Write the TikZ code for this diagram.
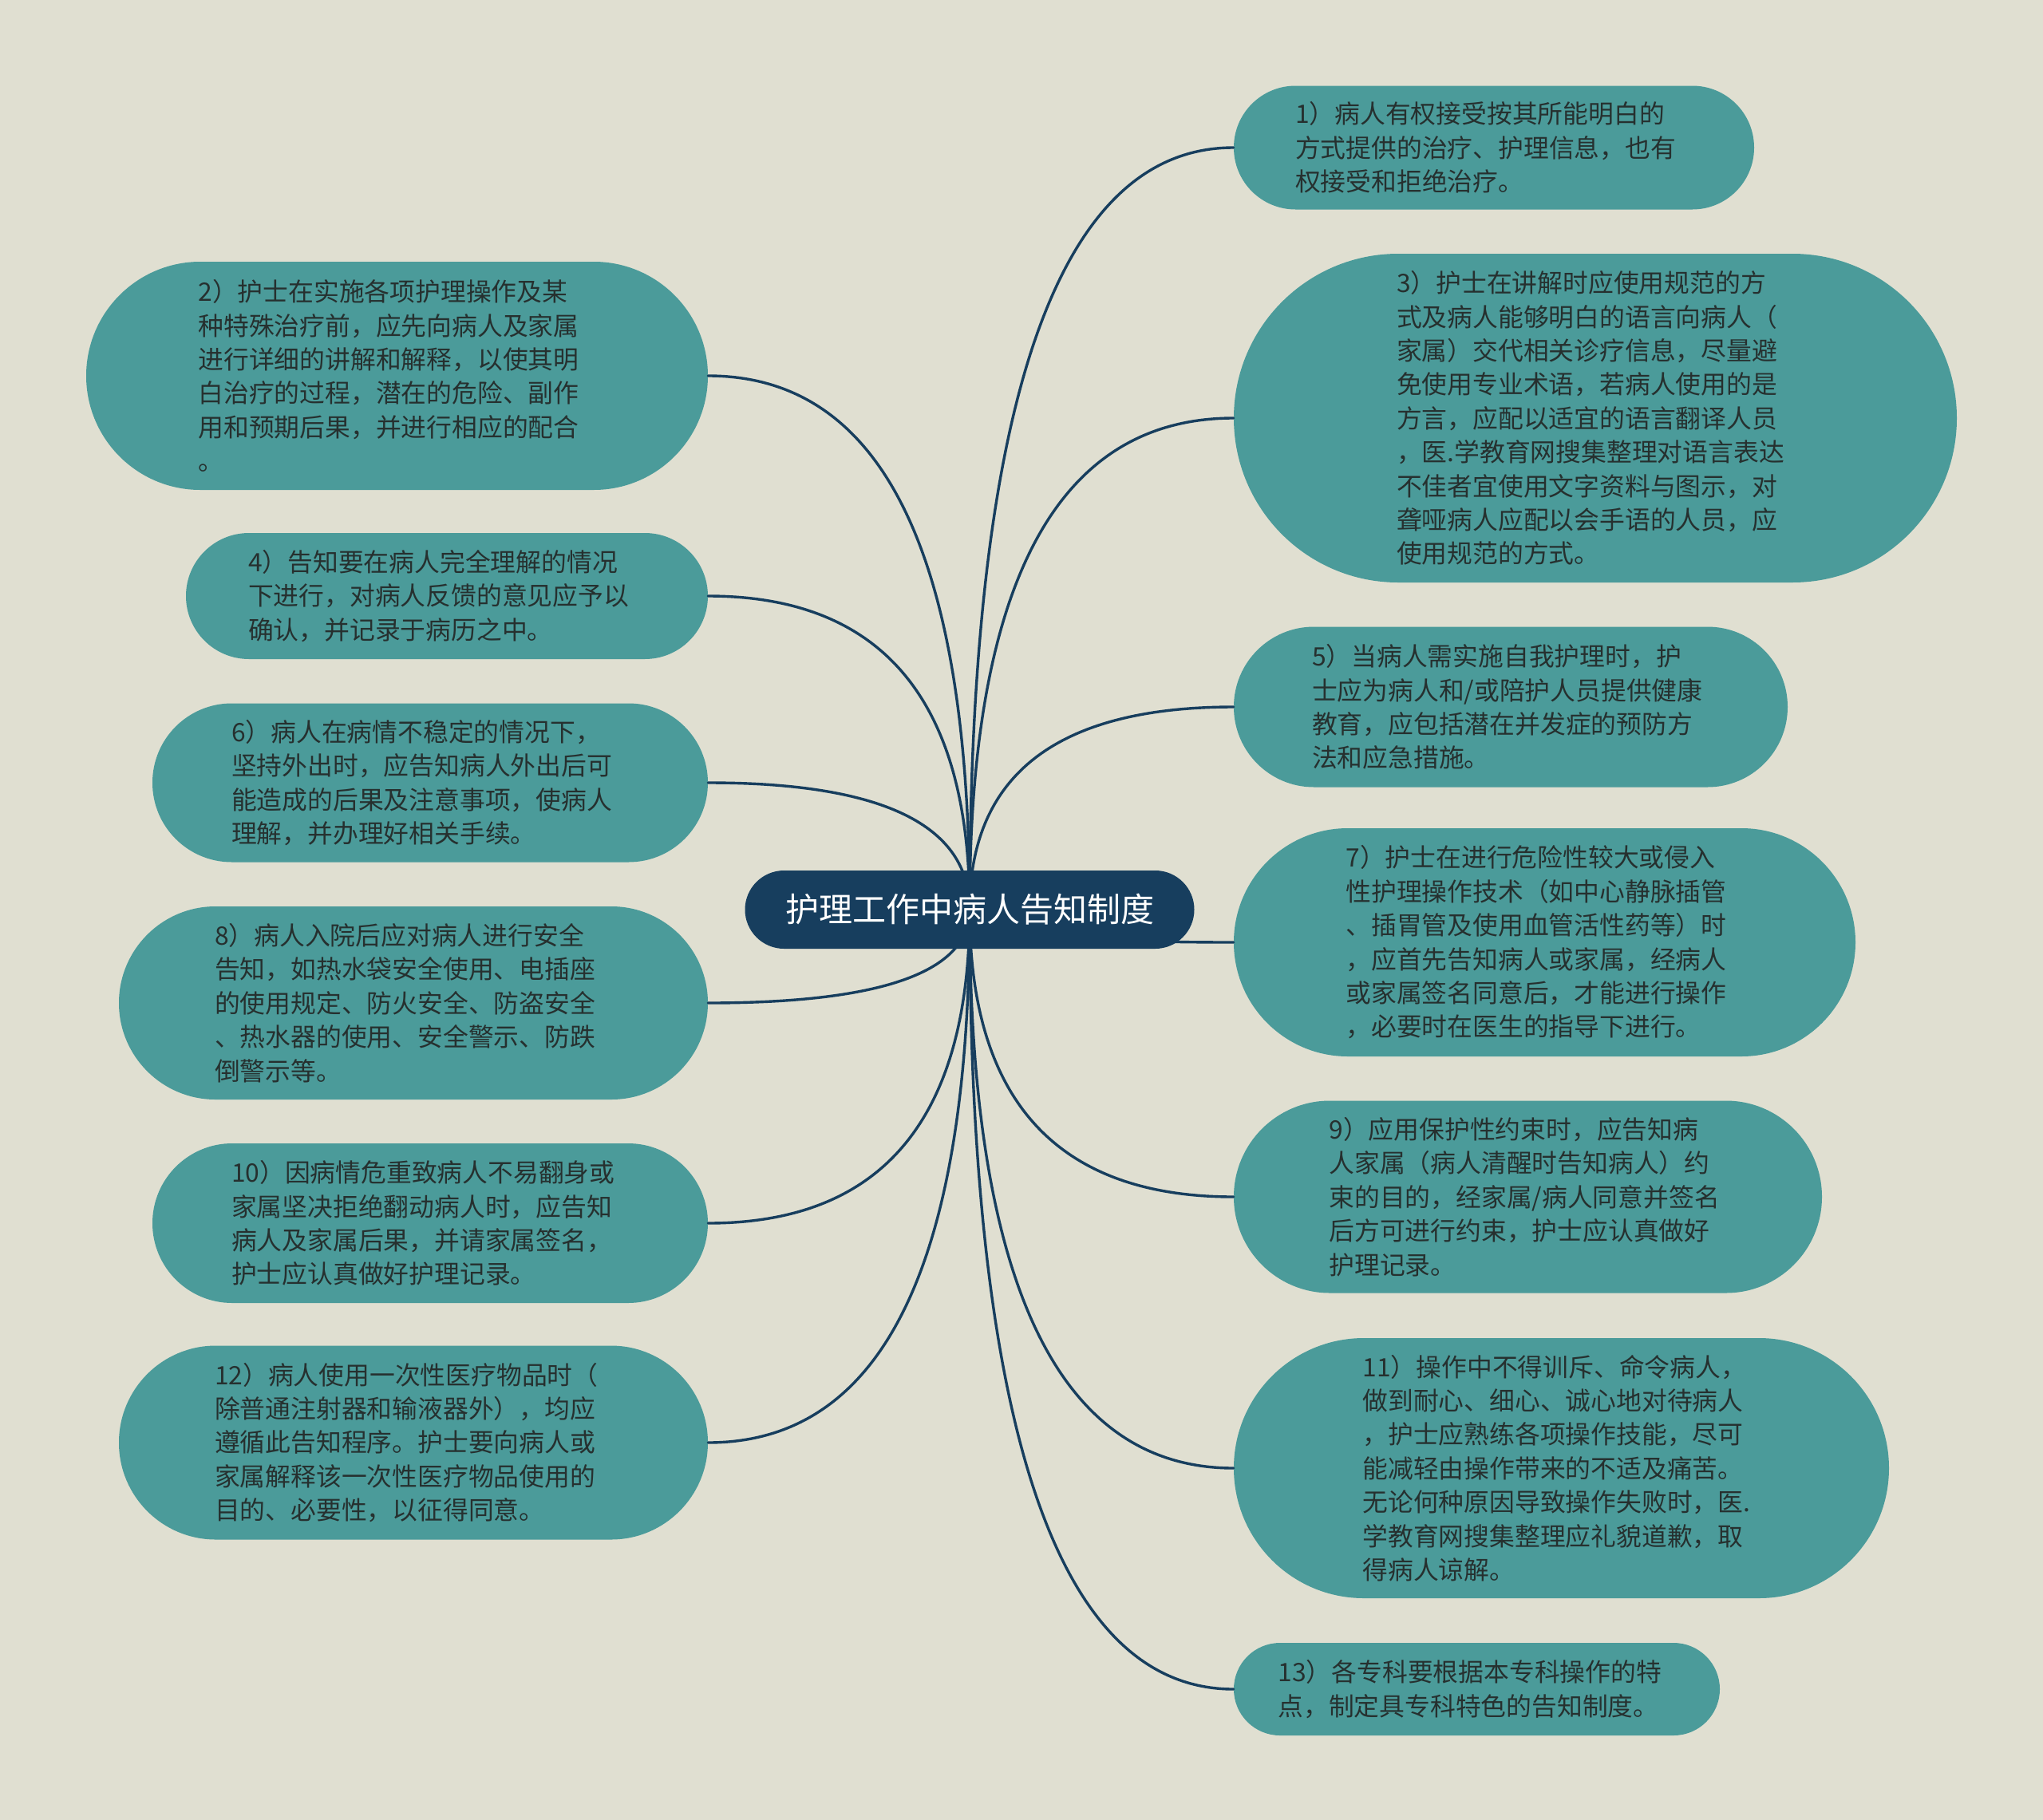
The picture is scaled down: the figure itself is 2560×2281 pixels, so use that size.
\documentclass[tikz,border=0pt]{standalone}
\usepackage{fontspec}
\newfontfamily\cjk{Noto Sans CJK SC}
\usetikzlibrary{calc}
\definecolor{bgc}{HTML}{E0DFD1}
\definecolor{leafc}{HTML}{4B9B9A}
\definecolor{rootc}{HTML}{173E5E}
\definecolor{linec}{HTML}{173E5E}
\definecolor{txtc}{HTML}{26302F}
\tikzset{
  leaf/.style={rectangle, fill=leafc, text=txtc, align=left, inner sep=0pt,
    text width=249pt,
    font=\cjk\fontsize{15.9pt}{21.2pt}\selectfont},
  root/.style={rectangle, fill=rootc, text=white, align=center, inner sep=0pt,
    font=\cjk\fontsize{21pt}{25pt}\selectfont,
    minimum width=281.5pt, minimum height=49pt, rounded corners=24.5pt},
  conn/.style={draw=linec, line width=1.7pt, line cap=round},
}
\newcommand{\rlink}[1]{\draw[conn] (c.center) .. controls ($(c.center)!0.6667!(c.center|-#1.west)$) and ($(#1.west)!0.6667!(c.center|-#1.west)$) .. (#1.west);}
\newcommand{\llink}[1]{\draw[conn] (c.center) .. controls ($(c.center)!0.6667!(c.center|-#1.east)$) and ($(#1.east)!0.6667!(c.center|-#1.east)$) .. (#1.east);}
\begin{document}
\begin{tikzpicture}[x=0.5pt,y=-0.5pt]
\fill[bgc] (0,0) rectangle (2560,2281);
\useasboundingbox (0,0) rectangle (2560,2281);

% right nodes
\node[leaf, minimum width=326pt, minimum height=77.5pt, rounded corners=38.7pt] (n1) at (1872,185)
 {1）病人有权接受按其所能明白的\\方式提供的治疗、护理信息，也有\\权接受和拒绝治疗。};
\node[leaf, minimum width=453pt, minimum height=206pt, rounded corners=103pt] (n3) at (1999,524)
 {3）护士在讲解时应使用规范的方\\式及病人能够明白的语言向病人（\\家属）交代相关诊疗信息，尽量避\\免使用专业术语，若病人使用的是\\方言，应配以适宜的语言翻译人员\\，医.学教育网搜集整理对语言表达\\不佳者宜使用文字资料与图示，对\\聋哑病人应配以会手语的人员，应\\使用规范的方式。};
\node[leaf, minimum width=347pt, minimum height=100.5pt, rounded corners=50.2pt] (n5) at (1893,886)
 {5）当病人需实施自我护理时，护\\士应为病人和/或陪护人员提供健康\\教育，应包括潜在并发症的预防方\\法和应急措施。};
\node[leaf, minimum width=389.5pt, minimum height=143pt, rounded corners=71.5pt] (n7) at (1935.5,1181)
 {7）护士在进行危险性较大或侵入\\性护理操作技术（如中心静脉插管\\、插胃管及使用血管活性药等）时\\，应首先告知病人或家属，经病人\\或家属签名同意后，才能进行操作\\，必要时在医生的指导下进行。};
\node[leaf, minimum width=368.5pt, minimum height=120.5pt, rounded corners=60.2pt] (n9) at (1914.5,1500)
 {9）应用保护性约束时，应告知病\\人家属（病人清醒时告知病人）约\\束的目的，经家属/病人同意并签名\\后方可进行约束，护士应认真做好\\护理记录。};
\node[leaf, minimum width=410.5pt, minimum height=163pt, rounded corners=81.5pt] (n11) at (1956.5,1840)
 {11）操作中不得训斥、命令病人，\\做到耐心、细心、诚心地对待病人\\，护士应熟练各项操作技能，尽可\\能减轻由操作带来的不适及痛苦。\\无论何种原因导致操作失败时，医.\\学教育网搜集整理应礼貌道歉，取\\得病人谅解。};
\node[leaf, minimum width=304.5pt, minimum height=58pt, rounded corners=29pt] (n13) at (1850.5,2117)
 {13）各专科要根据本专科操作的特\\点，制定具专科特色的告知制度。};

% left nodes
\node[leaf, minimum width=389.5pt, minimum height=143pt, rounded corners=71.5pt] (n2) at (497.5,471)
 {2）护士在实施各项护理操作及某\\种特殊治疗前，应先向病人及家属\\进行详细的讲解和解释，以使其明\\白治疗的过程，潜在的危险、副作\\用和预期后果，并进行相应的配合\\。};
\node[leaf, minimum width=327pt, minimum height=79pt, rounded corners=39.5pt] (n4) at (560,747)
 {4）告知要在病人完全理解的情况\\下进行，对病人反馈的意见应予以\\确认，并记录于病历之中。};
\node[leaf, minimum width=348pt, minimum height=99.5pt, rounded corners=49.7pt] (n6) at (539,981)
 {6）病人在病情不稳定的情况下，\\坚持外出时，应告知病人外出后可\\能造成的后果及注意事项，使病人\\理解，并办理好相关手续。};
\node[leaf, minimum width=369pt, minimum height=121pt, rounded corners=60.5pt] (n8) at (518,1257)
 {8）病人入院后应对病人进行安全\\告知，如热水袋安全使用、电插座\\的使用规定、防火安全、防盗安全\\、热水器的使用、安全警示、防跌\\倒警示等。};
\node[leaf, minimum width=348pt, minimum height=100pt, rounded corners=50pt] (n10) at (539,1533)
 {10）因病情危重致病人不易翻身或\\家属坚决拒绝翻动病人时，应告知\\病人及家属后果，并请家属签名，\\护士应认真做好护理记录。};
\node[leaf, minimum width=369pt, minimum height=121.5pt, rounded corners=60.7pt] (n12) at (518,1808)
 {12）病人使用一次性医疗物品时（\\除普通注射器和输液器外），均应\\遵循此告知程序。护士要向病人或\\家属解释该一次性医疗物品使用的\\目的、必要性，以征得同意。};

\coordinate (c) at (1215,1140);
\rlink{n1}\rlink{n3}\rlink{n5}\rlink{n7}\rlink{n9}\rlink{n11}\rlink{n13}
\llink{n2}\llink{n4}\llink{n6}\llink{n8}\llink{n10}\llink{n12}

\node[root] (root) at (c) {护理工作中病人告知制度};
\end{tikzpicture}
\end{document}
